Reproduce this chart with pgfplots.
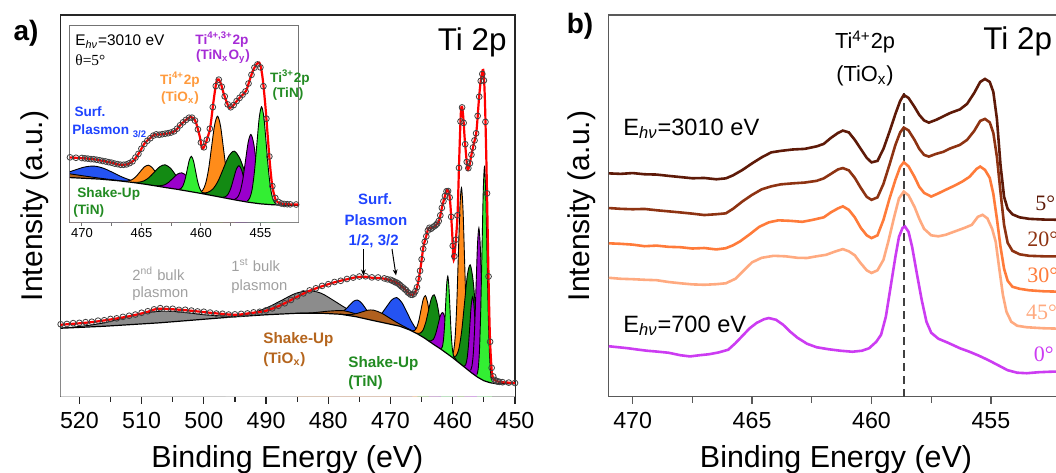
\documentclass[border=0pt]{standalone}
\usepackage{pgfplots}
\pgfplotsset{compat=1.18}
\usepackage{pgfplotstable}
\usepackage{fontspec}
\setmainfont{Liberation Sans}
\newfontfamily\tnr{Liberation Serif}
\usetikzlibrary{arrows.meta}
\newcommand\fsz[1]{\fontsize{#1}{#1}\selectfont}

% fill colours of the fit components
\definecolor{cgray}{HTML}{8C8C8C}
\definecolor{cblue}{HTML}{2453F2}
\definecolor{cbrown}{HTML}{B0601E}
\definecolor{corange}{HTML}{FF8C1A}
\definecolor{cgreen}{HTML}{138A13}
\definecolor{cpurple}{HTML}{9A00CC}
\definecolor{clgreen}{HTML}{33EE33}
% text colours
\definecolor{tblue}{HTML}{1F44FF}
\definecolor{tbrown}{HTML}{B5651D}
\definecolor{torange}{HTML}{FF9A3C}
\definecolor{tgreen}{HTML}{228B22}
\definecolor{tpurple}{HTML}{A62BD6}
\definecolor{tgray}{HTML}{A0A0A0}
% panel b curves
\definecolor{d5}{HTML}{5E1A08}
\definecolor{d20}{HTML}{8E3312}
\definecolor{d30}{HTML}{FF7B3A}
\definecolor{d45}{HTML}{FFAA80}
\definecolor{d0}{HTML}{CC3CF2}

% ---------- panel a: background, data and fitted components ----------
\pgfplotstableread{
E Y
523 68.5
516 70.5
507 74
500 77.5
495 80
490 82
485 83.5
481 83.5
478 82.5
475.5 80
473 76.5
470 72.5
468.5 70.5
467 67
465.7 63
464.5 58.5
463 52
462 48
461 43.5
460 39
459 34
458 29
457 24
456 19.5
455 16
454 14
453 13
450 13
}\tbg

% fit envelope
\pgfplotstableread{
E Y
523 72
519 74
516 76.3
512 80.5
509 85
507.5 88
505 87.5
502 86
499 84
495 82
492.5 83.7
490 86
487.5 92
485 100
483 106
481 110.5
479 114.5
477 117.5
475.4 119.7
474 120
472.7 118.7
471.6 118.7
470 116.5
468.9 113.7
467.6 107
466.8 102
466.2 103
465.7 110.3
465.2 128
464.7 150.3
464.2 162
463.9 168.7
463.4 168.5
462.8 171
462.2 176
461.7 190.3
461.2 202
460.9 207
460.6 204
460.4 193.7
460.1 165
459.9 138
459.7 143
459.4 165
459.2 187
458.95 240
458.7 284
458.5 290
458.3 279
458.1 260
457.8 238
457.6 227
457.3 232
457.0 242
456.6 253.7
456.2 265
455.8 297
455.5 316
455.1 327
454.85 300
454.6 237
454.4 170
454.2 103.7
454.0 55
453.7 23.7
453.3 17
452.9 15.3
452 14.5
450 13.7
}\tenv

% measured points (open circles)
\pgfplotstableread{
E Y
523 72.5
522 72.8
521 73.6
520 73.9
519 74.6
518 75.0
517 76.1
516 76.5
515 77.8
514 78.4
513 79.9
512 81.0
511 82.2
510 84.0
509 85.5
508 87.4
507 88.6
506 87.9
505 88.0
504 86.9
503 87.0
502 86.2
501 85.3
500 85.0
499 84.2
498 83.2
497 83.0
496 82.2
495 82.4
494 82.9
493 83.3
492 84.4
491 85.0
490 86.4
489 88.4
488 91.0
487 93.5
486 96.8
485 100.5
484 103.4
483 106.4
482 108.5
481 110.9
480 112.6
479 114.8
478 116.0
477 117.8
476 119.2
475 120.3
474 120.5
473 119.4
472 119.3
471 118.4
470.5 117.5
470 117.0
469.75 116.2
469.5 115.6
469.25 114.5
469.0 114.2
468.75 113.1
468.5 111.9
468.25 110.4
468.0 109.3
467.75 107.8
467.5 106.6
467.25 104.6
467.0 103.4
466.75 102.1
466.5 102.0
466.25 102.9
466.0 105.6
465.75 109.5
465.5 117.9
465.25 126.0
465.0 137.5
464.75 148.0
464.5 155.0
464.25 160.5
464.0 166.2
463.75 169.0
463.5 168.0
463.25 169.4
463.0 170.5
462.75 171.6
462.5 173.2
462.25 175.8
462.0 181.5
461.75 189.0
461.5 195.5
461.25 200.9
461.0 205.6
460.75 205.8
460.5 199.4
460.25 180.0
460.0 151.0
459.75 140.5
459.5 157.2
459.25 181.5
459.0 229.0
458.75 275.5
458.5 289.5
458.25 274.0
458.0 252.7
457.75 235.0
457.5 228.7
457.25 233.5
457.0 242.2
456.75 249.4
456.5 256.5
456.25 263.6
456.0 281.0
455.75 300.2
455.5 316.0
455.25 323.0
455.0 316.5
454.75 275.0
454.5 203.5
454.25 120.3
454.0 55.0
453.75 28.9
453.5 20.3
453.25 16.8
453.0 15.7
452.75 15.2
452.5 14.9
452.0 14.5
451.0 14.1
450.0 13.7
}\tdata

\pgfplotstableread{
E Y
523 68.7
521.25 69.5
518.5 71.4
515.75 74.3
513 78.7
510.25 82.9
507.5 85.3
504.75 85.3
502 83.5
499.25 81.6
496.5 80.8
493.75 81.0
491 81.7
}\tgtwo

\pgfplotstableread{
E Y
496.5 79.5
494.25 81.3
492 84.2
489.75 89.4
487.5 96.4
485.25 103.4
483 106
481.1 103.4
479.2 96.5
477.3 89.1
475.4 82.9
473.5 78.2
471.6 74.8
}\tgone

\pgfplotstableread{
E Y
479.2 83.1
478.55 83.5
477.9 84.7
477.25 87.3
476.6 91.4
475.95 95.5
475.3 96.7
474.65 93.8
474.0 88.2
473.35 82.5
472.7 78.4
472.05 76.0
471.4 74.5
}\tbone

\pgfplotstableread{
E Y
473.8 77.9
473 77.7
472.2 79.2
471.4 83.5
470.6 90.3
469.8 96.9
469 99.2
468.2 94.5
467.4 85
466.6 74.9
465.8 67.1
465 61.6
464.2 57.7
}\tbtwo

\pgfplotstableread{
E Y
485 83.5
482.5 84
480 85.6
477.5 86
475 81.7
472.5 76.3
470 72.5
}\tbrone

\pgfplotstableread{
E Y
478.1 82.6
477.2 82.2
476.3 82.2
475.4 83.3
474.5 85
473.6 86.6
472.7 86.6
471.5 83.8
470.3 79.3
469.1 74.7
467.9 70.5
466.7 66.6
465.5 62.3
}\tbrtwo

\pgfplotstableread{
E Y
466.5 66
466.15 66.3
465.8 69.1
465.45 76.1
465.1 86.9
464.75 97.3
464.4 101.1
464.05 94.5
463.7 81.1
463.35 67.5
463 57.8
462.65 52.5
462.3 49.7
}\toone

\pgfplotstableread{
E Y
465.7 63.6
465.25 63.6
464.8 66.4
464.35 74.1
463.9 86.2
463.45 98
463 102
462.55 94.3
462.1 78.7
461.65 62.6
461.2 51.2
460.75 44.6
460.3 41
}\tgrone

\pgfplotstableread{
E Y
463.85 56.1
463.5 55.8
463.1 57.5
462.725 63.2
462.35 72.4
461.975 81.4
461.6 84.2
461.225 78
460.85 65.8
460.475 53.4
460.1 44.6
459.725 39.3
459.35 36.1
}\tpone

\pgfplotstableread{
E Y
461.85 48.2
461.675 49.9
461.5 56.3
461.325 70.3
461.15 91.5
460.975 112.2
460.8 120.6
460.625 110.6
460.45 88.3
460.275 65.5
460.1 50.1
459.925 42
459.75 38.6
}\tlgone

\pgfplotstableread{
E Y
460.1 41.5
459.85 46
459.6 61
459.35 93.2
459.1 141.9
458.85 189.5
458.6 209
458.35 187
458.1 136.9
457.85 85.7
457.6 51
457.35 33.5
457.1 26.5
}\totwo

\pgfplotstableread{
E Y
459.9 39.7
459.45 41
459.0 48.5
458.55 66.5
458.1 94.4
457.65 121.7
457.2 132
456.75 117.3
456.3 85.8
455.85 53.7
455.4 31.9
454.95 20.6
454.5 16.2
}\tgrtwo

\pgfplotstableread{
E Y
458.15 30.6
457.925 32
457.7 37.9
457.475 51.4
457.25 71.9
457.025 92.1
456.8 100.1
456.575 90.1
456.35 67.8
456.125 45.1
455.9 29.6
455.675 21.8
455.45 18.5
}\tptwo

\pgfplotstableread{
E Y
457.15 26.4
456.925 30.3
456.7 43
456.475 70.3
456.25 111.6
456.025 152
455.8 168.8
455.575 150.4
455.35 108.2
455.125 65.1
454.9 36.1
454.675 22
454.45 16.6
}\tpthree

\pgfplotstableread{
E Y
456.1 22.2
455.9 28.6
455.7 47.4
455.5 87.3
455.3 146.9
455.1 205.2
454.9 229.8
454.7 204.3
454.5 144.8
454.3 84.1
454.1 43.2
453.9 23.3
453.7 16.1
}\tlgtwo

% ---------- panel b: angle dependent spectra ----------
\pgfplotstableread{
E Y
471.0 223.5
470.5 223.0
470.0 223.8
469.5 222.6
469.0 222.3
468.5 221.0
468.0 219.8
467.5 218.6
467.0 218.9
466.5 217.6
466.1 218.5
465.8 221.5
465.4 227.0
465.0 233.5
464.6 239.5
464.2 244.5
463.8 246.0
463.3 247.4
462.8 248.0
462.3 250.5
462.0 253.0
461.7 259.0
461.4 264.0
461.2 266.3
460.95 264.5
460.7 257.0
460.45 248.0
460.2 239.0
460.0 234.5
459.75 236.0
459.5 248.0
459.25 265.0
459.0 283.0
458.8 296.0
458.65 302.0
458.45 299.0
458.2 290.0
458.0 282.0
457.8 276.5
457.6 274.3
457.3 277.0
457.0 280.5
456.7 284.0
456.3 287.5
456.0 293.0
455.7 304.0
455.45 315.0
455.25 318.0
455.05 315.0
454.9 305.0
454.75 278.0
454.6 232.0
454.45 200.0
454.3 188.0
454.1 182.5
453.8 179.5
453.4 178.0
452.8 177.3
452.0 177.0
}\bfive

\pgfplotstableread{
E Y
471.0 188.8
470.5 188.0
470.0 187.6
469.5 187.9
469.0 186.6
468.5 185.5
468.0 184.4
467.5 183.2
467.0 181.8
466.5 182.6
466.1 183.5
465.8 188.0
465.4 195.5
465.0 202.0
464.6 207.5
464.2 210.5
463.8 212.5
463.3 213.5
462.8 214.3
462.3 216.0
462.0 218.5
461.7 223.0
461.4 227.5
461.2 228.8
460.95 226.5
460.7 219.0
460.45 209.0
460.2 200.0
460.0 197.0
459.75 199.5
459.5 213.0
459.25 232.0
459.0 252.0
458.8 264.5
458.65 269.3
458.45 266.5
458.2 257.0
458.0 248.0
457.8 242.0
457.6 240.3
457.3 243.0
457.0 245.0
456.7 248.5
456.3 252.0
456.0 257.0
455.7 266.0
455.45 276.0
455.25 278.0
455.05 274.5
454.9 264.0
454.75 240.0
454.6 205.0
454.45 172.0
454.3 154.0
454.1 146.0
453.8 142.5
453.4 141.0
452.8 140.5
452.0 140.3
}\btwenty

\pgfplotstableread{
E Y
471.0 153.5
470.5 153.0
470.0 152.2
469.5 150.6
469.0 151.2
468.5 150.0
468.0 149.6
467.5 148.3
467.0 148.8
466.5 147.4
466.1 148.6
465.8 151.5
465.5 155.5
465.1 162.5
464.7 170.0
464.3 174.5
463.9 176.5
463.4 176.0
462.9 175.0
462.5 176.8
462.0 179.5
461.7 184.5
461.4 188.5
461.2 190.5
460.95 187.0
460.7 179.5
460.45 169.0
460.2 161.5
460.0 158.7
459.75 161.5
459.5 177.0
459.25 198.0
459.0 217.0
458.8 230.0
458.65 234.7
458.45 230.5
458.2 220.0
458.0 210.0
457.8 204.0
457.5 200.3
457.2 203.5
456.9 207.0
456.5 211.5
456.2 215.3
455.9 220.0
455.6 228.0
455.45 230.3
455.25 227.0
455.05 219.0
454.9 203.0
454.75 178.0
454.6 150.0
454.45 128.0
454.3 116.0
454.1 110.0
453.8 108.0
453.4 106.5
452.8 105.5
452.0 105.0
}\bthirty

\pgfplotstableread{
E Y
471.0 119.0
470.5 118.0
470.0 117.6
469.5 117.0
469.0 116.6
468.5 114.8
468.0 113.5
467.5 112.4
467.0 112.0
466.5 112.6
466.1 113.5
465.7 118.0
465.3 127.5
465.0 134.5
464.6 139.0
464.1 141.0
463.6 140.5
463.1 139.0
462.7 138.8
462.3 140.5
461.9 142.0
461.5 145.5
461.2 147.7
460.95 145.5
460.7 141.5
460.45 133.5
460.2 126.5
460.0 123.8
459.75 126.5
459.5 137.0
459.3 155.0
459.05 180.0
458.85 198.5
458.65 205.3
458.45 201.5
458.2 190.0
458.0 178.0
457.8 168.0
457.5 161.5
457.2 160.5
456.9 162.0
456.5 165.5
456.1 169.0
455.8 172.0
455.55 180.0
455.35 182.0
455.15 178.5
454.95 168.0
454.8 155.0
454.65 128.0
454.5 102.0
454.35 85.0
454.15 75.0
453.9 71.0
453.5 69.5
452.8 68.5
452.0 68.0
}\bfortyfive

\pgfplotstableread{
E Y
471.0 50.5
470.6 49.5
470.2 48.5
469.8 47.2
469.4 46.0
469.0 45.2
468.5 44.0
468.0 41.5
467.6 40.3
467.2 41.5
466.8 42.5
466.4 44.3
466.0 47.0
465.7 53.5
465.4 61.0
465.1 68.5
464.8 74.0
464.5 77.5
464.3 78.7
464.0 77.0
463.7 72.0
463.4 65.0
463.1 59.0
462.7 53.0
462.3 49.5
461.8 47.5
461.3 46.0
460.8 45.0
460.4 46.0
460.1 48.5
459.8 55.0
459.6 62.0
459.4 80.0
459.2 110.0
459.0 140.0
458.85 160.0
458.7 169.0
458.6 170.3
458.45 165.0
458.3 150.0
458.1 123.0
457.9 97.0
457.7 75.0
457.5 64.0
457.2 58.0
456.8 54.0
456.3 48.5
455.9 45.0
455.5 41.0
455.1 36.5
454.7 31.5
454.3 26.5
453.9 24.0
453.5 23.5
453.0 24.5
452.5 25.0
452.0 25.3
}\bzero

\newcommand\comp[2]{%
  \addplot[fill=#2, draw=none, smooth, tension=0.5] table {#1} \closedcycle;
  \addplot[black, line width=0.45pt, smooth, tension=0.5] table {#1};
}
\newcommand\drawfit{%
  \comp{\tgtwo}{cgray}
  \comp{\tgone}{cgray}
  \comp{\tbone}{cblue}
  \comp{\tbtwo}{cblue}
  \comp{\tbrone}{cbrown}
  \comp{\tbrtwo}{cbrown}
  \comp{\toone}{corange}
  \comp{\totwo}{corange}
  \comp{\tgrone}{cgreen}
  \comp{\tgrtwo}{cgreen}
  \comp{\tpone}{cpurple}
  \comp{\tptwo}{cpurple}
  \comp{\tpthree}{cpurple}
  \comp{\tlgone}{clgreen}
  \comp{\tlgtwo}{clgreen}
  \addplot[fill=white, draw=none] table {\tbg} \closedcycle;
  \addplot[black, line width=0.6pt] table {\tbg};
  \addplot[only marks, mark=o, mark size=1.45pt,
    mark options={draw=black!75, line width=0.4pt}] table {\tdata};
  \addplot[red, line width=1.1pt, smooth, tension=0.5] table {\tenv};
}

\pgfplotsset{panel/.style={scale only axis, x dir=reverse, ytick=\empty,
  xtick pos=bottom, tick align=outside, minor x tick num=1,
  /pgf/number format/assume math mode=true}}

\begin{document}
\begin{tikzpicture}
\useasboundingbox (0pt,0pt) rectangle (528pt,236pt);
\clip (0pt,0pt) rectangle (528pt,236pt);

% ---------------- panel a ----------------
\begin{axis}[panel, at={(30.35pt,37.65pt)}, anchor=south west,
  width=227.15pt, height=190.85pt,
  xmin=450, xmax=523, ymin=0, ymax=382,
  xtick={450,460,...,520},
  major tick length=3.5pt, minor tick length=2.5pt,
  axis line style={black!85, line width=0.6pt},
  tick style={black!85, line width=0.6pt},
  ticklabel style={font=\fsz{11.6}, yshift=-1pt}]
\drawfit
\end{axis}

% inset (data lifted by 24 so that closed areas end on the axis line)
\begin{axis}[panel, at={(35pt,125pt)}, anchor=south west,
  width=114.25pt, height=98.3pt,
  xmin=451.8, xmax=471, ymin=0, ymax=433,
  y filter/.expression={y+24},
  xtick={455,460,465,470},
  major tick length=2pt, minor tick length=2pt,
  axis background/.style={fill=white},
  axis line style={black!55, line width=0.5pt},
  tick style={black!55, line width=0.5pt},
  ticklabel style={font=\fsz{6.5}, yshift=2.5pt}]
\drawfit
\end{axis}

% ---------------- panel b ----------------
\begin{axis}[panel, at={(304.15pt,37.65pt)}, anchor=south west,
  width=227.15pt, height=190.85pt,
  xmin=452, xmax=471.02, ymin=0, ymax=382,
  xtick={455,460,465,470},
  major tick length=3.5pt, minor tick length=3pt,
  axis line style={black!65, line width=0.6pt},
  tick style={black!65, line width=0.6pt},
  ticklabel style={font=\fsz{11.6}, yshift=-1pt}]
\addplot[black!75, line width=0.8pt, dash pattern=on 4pt off 2.5pt] coordinates {(458.63,0) (458.63,304)};
\addplot[d45, line width=1.3pt] table {\bfortyfive};
\addplot[d30, line width=1.3pt] table {\bthirty};
\addplot[d20, line width=1.3pt] table {\btwenty};
\addplot[d5, line width=1.3pt] table {\bfive};
\addplot[d0, line width=1.3pt] table {\bzero};
\end{axis}

\begin{scope}[every node/.append style={inner sep=0pt}]
% ---------------- texts panel a ----------------
\node[font=\fsz{14}\bfseries] at (13pt,219.5pt) {a)};
\node[anchor=base east, font=\fsz{15.7}] at (253.5pt,210.6pt) {Ti 2p};
\node[rotate=90, font=\fsz{15}] at (17.5pt,133pt) {Intensity (a.u.)};
\node[anchor=base, font=\fsz{15.2}] at (143.7pt,2.5pt) {Binding Energy (eV)};

\node[anchor=base west, font=\fsz{7.7}] at (37.5pt,213pt) {E\textsubscript{\textit{hν}}=3010 eV};
\node[anchor=base west, font=\fsz{7.7}\tnr] at (37.5pt,203pt) {θ=5°};
\node[anchor=base, font=\fsz{6.8}\bfseries, text=tpurple] at (111pt,213.5pt) {Ti\textsuperscript{4+,3+}2p};
\node[anchor=base, font=\fsz{6.8}\bfseries, text=tpurple] at (111.5pt,206pt) {(TiN\textsubscript{x}O\textsubscript{y})};
\node[anchor=base, font=\fsz{6.8}\bfseries, text=torange] at (90pt,193.75pt) {Ti\textsuperscript{4+}2p};
\node[anchor=base, font=\fsz{6.8}\bfseries, text=torange] at (90pt,185.3pt) {(TiO\textsubscript{x})};
\node[anchor=base, font=\fsz{6.8}\bfseries, text=tgreen] at (145pt,194.5pt) {Ti\textsuperscript{3+}2p};
\node[anchor=base, font=\fsz{6.8}\bfseries, text=tgreen] at (144pt,187pt) {(TiN)};
\node[anchor=base, font=\fsz{6.8}\bfseries, text=tblue] at (45pt,177.5pt) {Surf.};
\node[anchor=base west, font=\fsz{6.8}\bfseries, text=tblue] at (36pt,168.5pt) {Plasmon \textsubscript{3/2}};
\node[anchor=base west, font=\fsz{6.8}\bfseries, text=tgreen] at (38.5pt,137pt) {Shake-Up};
\node[anchor=base west, font=\fsz{6.8}\bfseries, text=tgreen] at (36.5pt,128.5pt) {(TiN)};

\node[anchor=base west, font=\fsz{7.4}, text=tgray] at (66pt,95.7pt) {2\textsuperscript{nd} bulk};
\node[anchor=base west, font=\fsz{7.4}, text=tgray] at (66pt,87.25pt) {plasmon};
\node[anchor=base west, font=\fsz{7.4}, text=tgray] at (115.5pt,100.25pt) {1\textsuperscript{st} bulk};
\node[anchor=base west, font=\fsz{7.4}, text=tgray] at (115.5pt,91pt) {plasmon};
\node[anchor=base, font=\fsz{7.5}\bfseries, text=tblue] at (187.65pt,133.5pt) {Surf.};
\node[anchor=base, font=\fsz{7.5}\bfseries, text=tblue] at (188pt,123.1pt) {Plasmon};
\node[anchor=base, font=\fsz{7.5}\bfseries, text=tblue] at (186.8pt,113.5pt) {1/2, 3/2};
\draw[-{Stealth[length=3pt,width=2.4pt]}, line width=0.5pt] (181.7pt,111.5pt) -- (181.7pt,98.25pt);
\draw[-{Stealth[length=3pt,width=2.4pt]}, line width=0.5pt] (196pt,111.5pt) -- (198pt,98.25pt);
\node[anchor=base west, font=\fsz{7.6}\bfseries, text=tbrown] at (131.5pt,64pt) {Shake-Up};
\node[anchor=base west, font=\fsz{7.6}\bfseries, text=tbrown] at (131.5pt,54.3pt) {(TiO\textsubscript{x})};
\node[anchor=base west, font=\fsz{7.6}\bfseries, text=tgreen] at (174pt,52.1pt) {Shake-Up};
\node[anchor=base west, font=\fsz{7.6}\bfseries, text=tgreen] at (174pt,42.5pt) {(TiN)};

% ---------------- texts panel b ----------------
\node[font=\fsz{14}\bfseries] at (290pt,223pt) {b)};
\node[anchor=base west, font=\fsz{15.7}] at (491.5pt,211.4pt) {Ti 2p};
\node[rotate=90, font=\fsz{15}] at (291pt,133pt) {Intensity (a.u.)};
\node[anchor=base, font=\fsz{15.2}] at (418pt,2.5pt) {Binding Energy (eV)};
\node[anchor=base, font=\fsz{10.9}] at (432.5pt,211.5pt) {Ti\textsuperscript{4+}2p};
\node[anchor=base, font=\fsz{10.9}] at (432.5pt,195.2pt) {(TiO\textsubscript{x})};
\node[anchor=base west, font=\fsz{11.8}] at (311.5pt,168.4pt) {E\textsubscript{\textit{hν}}=3010 eV};
\node[anchor=base west, font=\fsz{11.8}] at (311.5pt,70pt) {E\textsubscript{\textit{hν}}=700 eV};
\node[anchor=base west, font=\fsz{11}\tnr, text=d5] at (517.5pt,130.5pt) {5°};
\node[anchor=base west, font=\fsz{11}\tnr, text=d20] at (513.5pt,112.5pt) {20°};
\node[anchor=base west, font=\fsz{11}\tnr, text=d30] at (513.5pt,95pt) {30°};
\node[anchor=base west, font=\fsz{11}\tnr, text=d45] at (512.8pt,76pt) {45°};
\node[anchor=base west, font=\fsz{11}\tnr, text=d0] at (516.7pt,55.5pt) {0°};
\end{scope}
\end{tikzpicture}
\end{document}
